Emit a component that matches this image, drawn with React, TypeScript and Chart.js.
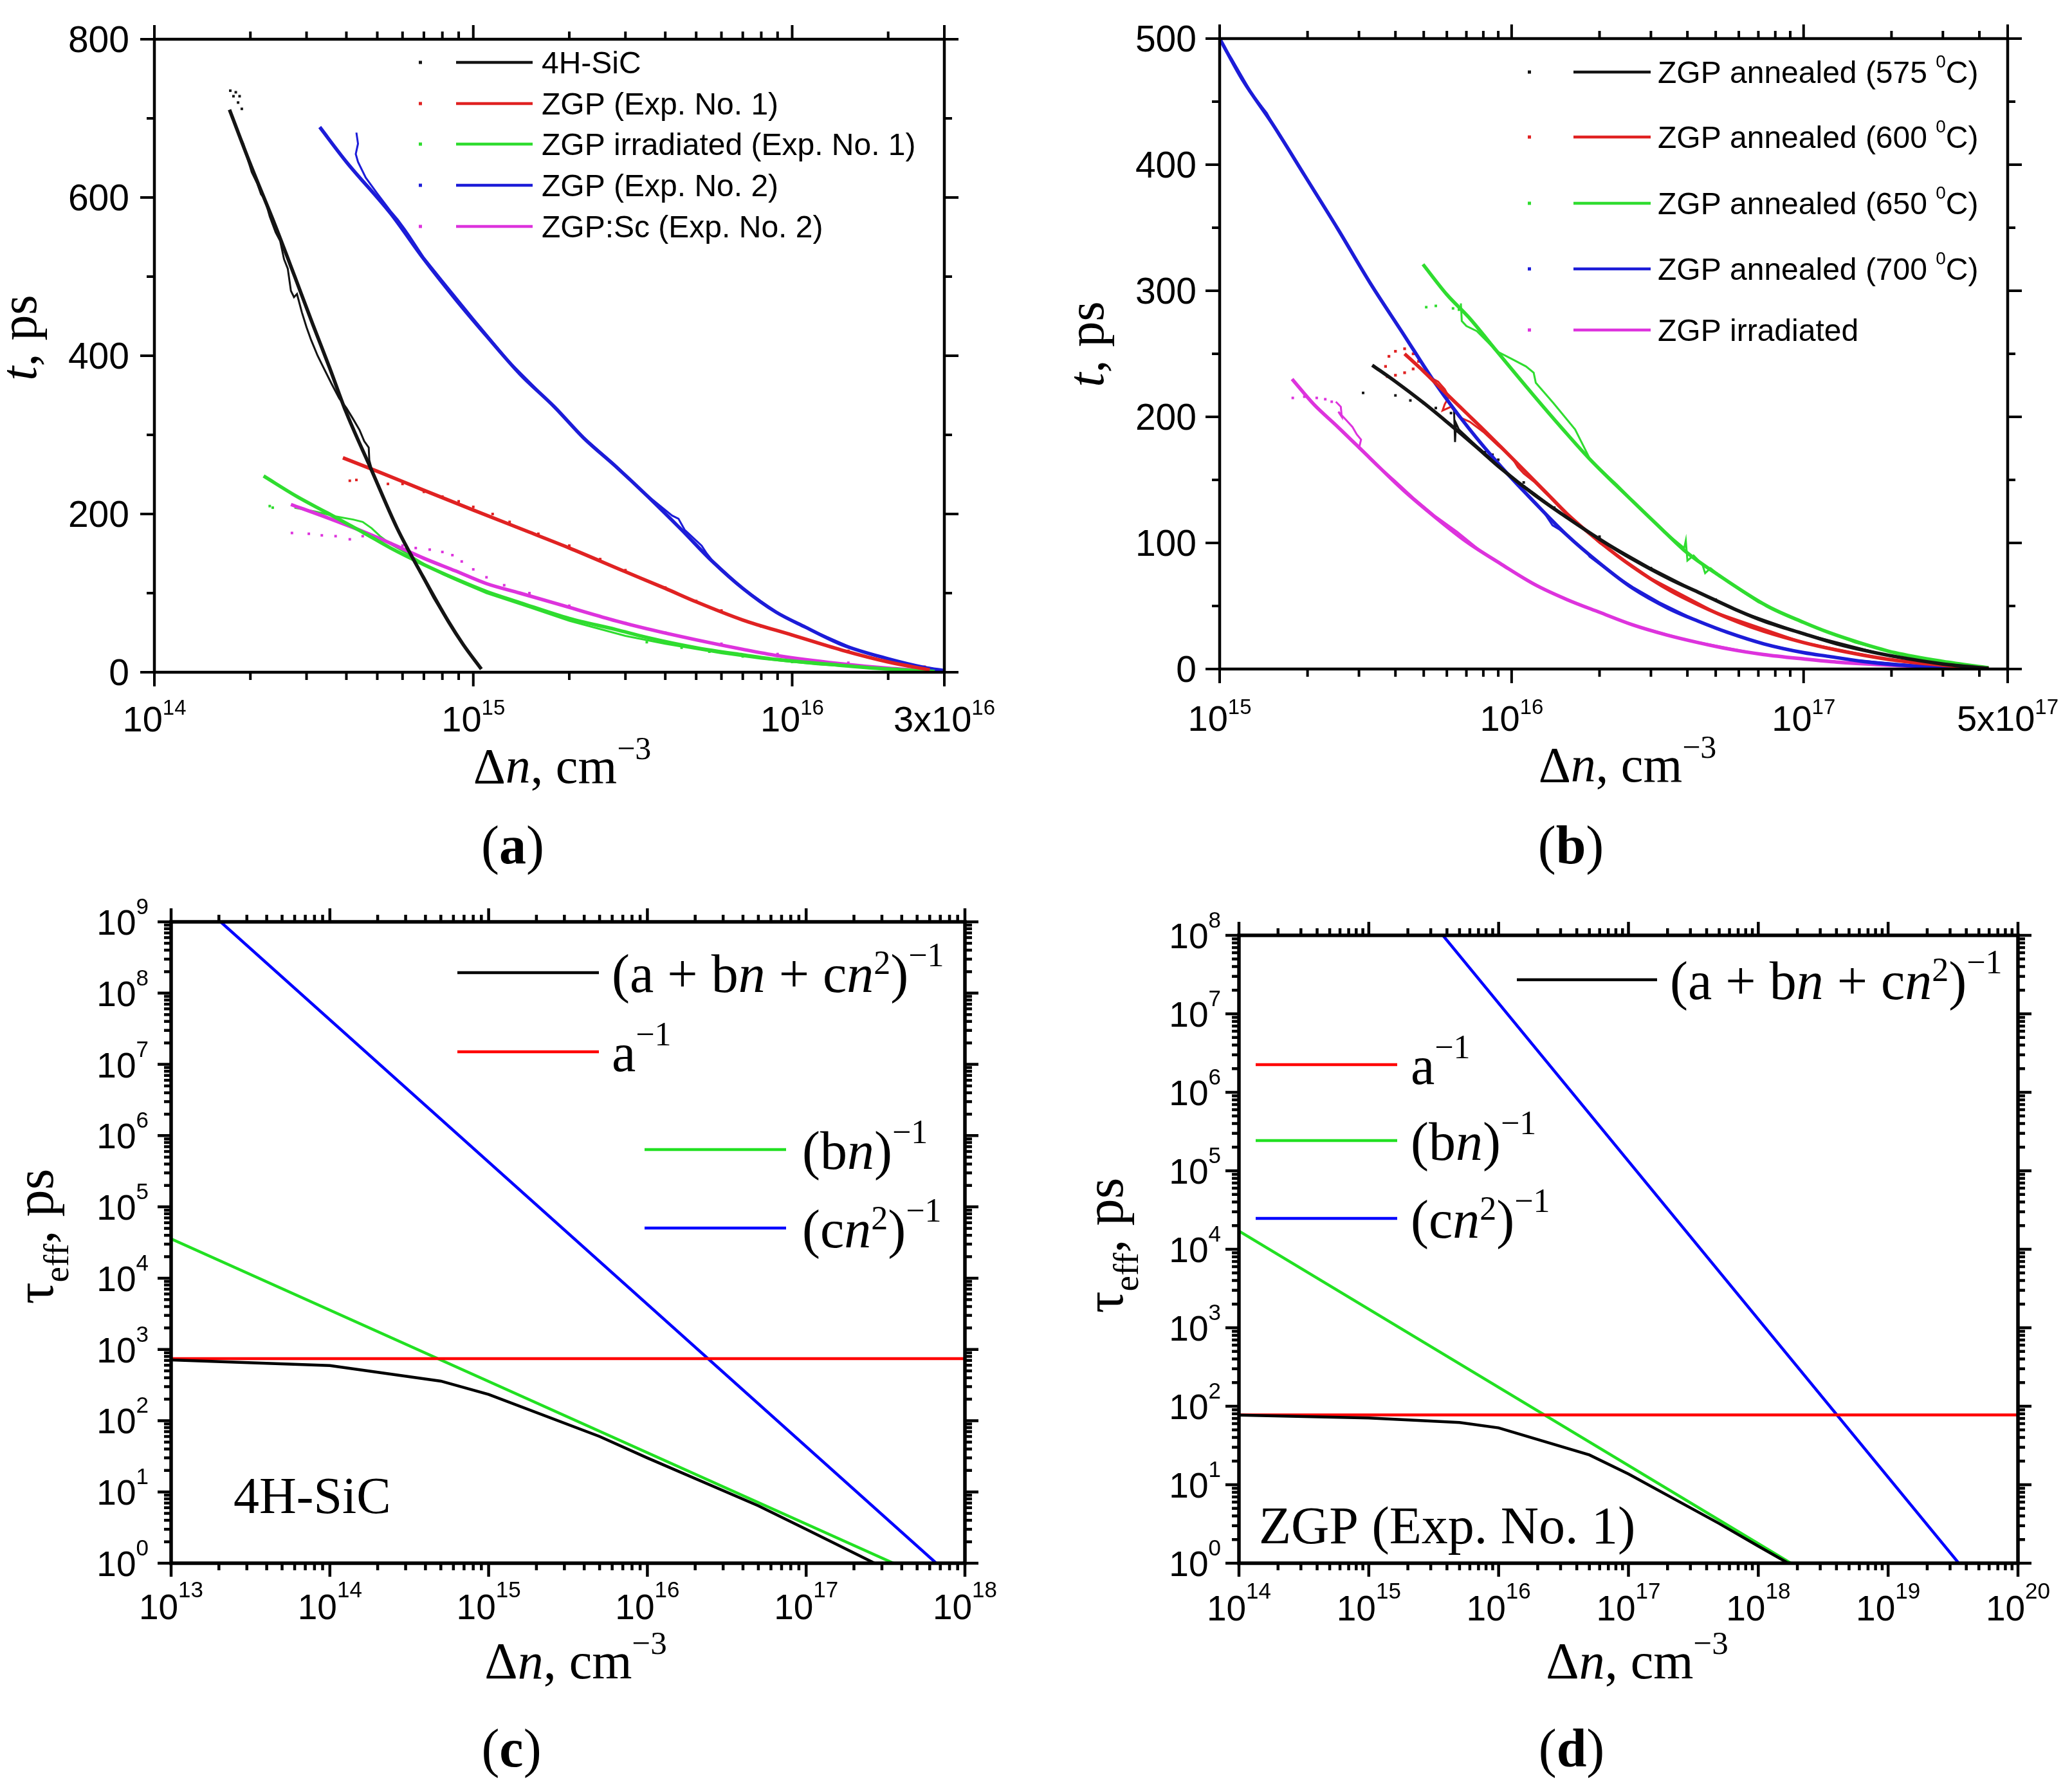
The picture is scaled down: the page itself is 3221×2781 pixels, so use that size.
import React, { useEffect, useRef } from 'react';
import { Chart, registerables } from 'chart.js';

Chart.register(...registerables);

type P = [number, number];

// ---------------- Panel (a) data ----------------
const A_SIC_FIT: P[] = [[1.72e14, 711], [2.0e14, 642], [2.385e14, 566], [2.75e14, 501], [3.15e14, 438], [3.55e14, 384], [3.98e14, 330], [4.79e14, 256], [5.77e14, 182], [6.95e14, 121], [8.36e14, 64], [9.3e14, 35], [1.06e15, 4]];
const A_SIC_DATA: P[] = [[1.75e14, 702], [1.8e14, 690], [1.86e14, 676], [1.9e14, 668], [1.95e14, 652], [2.02e14, 632], [2.1e14, 618], [2.16e14, 604], [2.22e14, 598], [2.3e14, 576], [2.4e14, 556], [2.48e14, 545], [2.55e14, 522], [2.62e14, 510], [2.68e14, 482], [2.74e14, 474], [2.8e14, 478], [2.9e14, 455], [3.0e14, 436], [3.1e14, 420], [3.25e14, 400], [3.4e14, 384], [3.6e14, 364], [3.8e14, 346], [4.0e14, 334], [4.2e14, 320], [4.4e14, 306], [4.55e14, 292], [4.7e14, 284], [4.72e14, 268], [4.85e14, 250], [5.2e14, 222], [5.8e14, 180], [6.5e14, 142], [7.5e14, 94], [8.5e14, 58], [9.5e14, 30], [1.05e15, 6]];
const A_SIC_DOTS: P[] = [[1.73e14, 735], [1.77e14, 728], [1.8e14, 733], [1.83e14, 720], [1.85e14, 728], [1.88e14, 712]];

const A_ZGP1_FIT: P[] = [[3.9e14, 271], [5e14, 254], [7e14, 230], [1e15, 205], [1.5e15, 177], [2e15, 157], [3e15, 127], [4e15, 106], [5e15, 89], [7e15, 66], [1e16, 47], [1.43e16, 28], [2e16, 13], [2.7e16, 3]];
const A_ZGP1_DOTS: P[] = [[4.1e14, 242], [4.3e14, 243], [5.4e14, 238], [6e14, 238], [7e14, 228], [8e14, 222], [9e14, 216], [1e15, 209], [1.15e15, 200], [1.3e15, 190], [1.6e15, 175], [2e15, 160], [2.5e15, 143], [3e15, 129], [4e15, 107], [5e15, 90], [6e15, 78], [8e15, 58], [1e16, 47], [1.5e16, 27], [2e16, 15], [2.6e16, 7], [3e16, 3]];

const A_IRR_FIT: P[] = [[2.2e14, 248], [2.8e14, 222], [3.46e14, 202], [4.5e14, 177], [5.5e14, 157], [7e14, 136], [8.8e14, 118], [1.1e15, 102], [1.4e15, 88], [2e15, 68], [2.8e15, 54], [3.5e15, 44], [5e15, 31], [7e15, 22], [9e15, 16], [1.4e16, 9], [2e16, 4], [2.8e16, 1]];
const A_IRR_DATA: P[] = [[2.75e14, 208], [3.2e14, 203], [3.7e14, 197], [4.2e14, 193], [4.5e14, 190], [4.8e14, 182], [5.1e14, 172], [5.5e14, 162], [6.2e14, 150], [7e14, 137], [8e14, 124], [9e14, 115], [1.1e15, 100], [1.5e15, 82], [2e15, 65], [3e15, 46], [4e15, 36], [6e15, 24], [8e15, 17], [1.2e16, 10], [2e16, 4], [3e16, 1]];
const A_IRR_DOTS: P[] = [[2.3e14, 210], [2.35e14, 208], [3.5e15, 38], [4.5e15, 31], [5.5e15, 26], [7e15, 20], [1e16, 13], [1.5e16, 8], [2.2e16, 3]];

const A_ZGP2_FIT: P[] = [[3.3e14, 689], [4e14, 645], [5.5e14, 580], [7e14, 522], [8.77e14, 472], [1.1e15, 425], [1.4e15, 377], [1.8e15, 335], [2.22e15, 296], [2.8e15, 260], [3.53e15, 222], [4.5e15, 180], [5.62e15, 140], [7e15, 106], [8.9e15, 76], [1.1e16, 57], [1.43e16, 35], [2e16, 17], [2.6e16, 6], [3e16, 2]];
const A_ZGP2_DATA: P[] = [[4.3e14, 682], [4.35e14, 668], [4.28e14, 655], [4.35e14, 645], [4.6e14, 625], [5e14, 605], [5.5e14, 583], [5.8e14, 572], [6.1e14, 560], [6.3e14, 552], [7e14, 524], [8e14, 495], [1e15, 447], [1.3e15, 392], [1.7e15, 345], [2.2e15, 298], [2.8e15, 261], [3.5e15, 224], [4.2e15, 198], [4.4e15, 194], [4.6e15, 180], [5.2e15, 160], [5.4e15, 150], [5.6e15, 142], [7e15, 106], [9e15, 75], [1.2e16, 50], [1.6e16, 28], [2.2e16, 12], [3e16, 2]];

const A_SC_FIT: P[] = [[2.68e14, 212], [3.5e14, 195], [4.5e14, 178], [5.5e14, 163], [7e14, 144], [8.8e14, 128], [1.1e15, 112], [1.4e15, 100], [2e15, 82], [2.8e15, 65], [3.5e15, 55], [5e15, 41], [7e15, 29], [9e15, 21], [1.4e16, 11], [2e16, 5], [3e16, 0.5]];
const A_SC_DOTS: P[] = [[2.7e14, 176], [3.05e14, 175], [3.35e14, 173], [3.7e14, 172], [4.1e14, 168], [4.5e14, 172], [5e14, 167], [5.5e14, 163], [6e14, 160], [6.6e14, 157], [7.3e14, 155], [8e14, 152], [8.6e14, 148], [9.2e14, 140], [1e15, 130], [1.1e15, 120], [1.25e15, 110], [1.5e15, 100], [2e15, 84], [3e15, 62], [4e15, 50], [6e15, 36], [9e15, 23], [1.5e16, 12], [2.5e16, 3]];

const A_LEGEND = ['4H-SiC', 'ZGP (Exp. No. 1)', 'ZGP irradiated (Exp. No. 1)', 'ZGP (Exp. No. 2)', 'ZGP:Sc (Exp. No. 2)'];
const A_Y_TICKS = [0, 200, 400, 600, 800];
const A_Y_MINOR = [100, 300, 500, 700];

// ---------------- Panel (b) data ----------------
const B_575_FIT: P[] = [[3.33e15, 241], [4e15, 228], [5e15, 211], [6e15, 196], [7.5e15, 177], [9.2e15, 159], [1.2e16, 138], [1.55e16, 120], [2e16, 103], [2.6e16, 87], [3.5e16, 71], [4.35e16, 61], [6e16, 46], [7.3e16, 38], [1e17, 28], [1.3e17, 20], [1.6e17, 15], [2.05e17, 10], [3e17, 4], [4.3e17, 0.5]];
const B_575_DOTS: P[] = [[3.1e15, 219], [4.0e15, 217], [4.5e15, 213], [5e15, 211], [5.5e15, 207], [6.2e15, 203], [8.1e15, 172], [8.6e15, 170], [9e15, 166], [1.1e16, 148], [1.4e16, 128], [2e16, 105], [3e16, 80], [5e16, 55], [8e16, 35]];
const B_575_DATA: P[] = [[6.35e15, 205], [6.4e15, 180], [6.45e15, 195], [6.6e15, 190], [7.5e15, 178], [8.5e15, 167], [1e16, 152], [1.2e16, 139], [1.5e16, 122], [2e16, 103], [3e16, 80], [4.35e16, 61], [6e16, 46], [1e17, 28], [2e17, 10], [4.3e17, 0.5]];

const B_600_FIT: P[] = [[4.3e15, 250], [5e15, 236], [6e15, 218], [7e15, 203], [8e15, 190], [9.2e15, 176], [1.1e16, 158], [1.3e16, 141], [1.55e16, 123], [2e16, 101], [2.6e16, 81], [3.5e16, 62], [4.35e16, 51], [6e16, 37], [7.3e16, 30], [1e17, 21], [1.3e17, 15], [1.6e17, 11], [2.05e17, 7], [3e17, 3], [4.3e17, 0.5]];
const B_600_LOOP: P[] = [[3.75e15, 232], [3.7e15, 240], [3.8e15, 248], [4.0e15, 252], [4.3e15, 254], [4.6e15, 250], [4.8e15, 244], [4.6e15, 238], [4.3e15, 235], [4.0e15, 233]];
const B_600_DATA: P[] = [[4.8e15, 240], [5.2e15, 232], [5.6e15, 228], [5.9e15, 222], [6.1e15, 216], [5.9e15, 210], [5.8e15, 205], [6.2e15, 208], [6.6e15, 200], [7.2e15, 196], [8e15, 188], [9e15, 177], [1e16, 168], [1.05e16, 160], [1.1e16, 155], [1.2e16, 148], [1.3e16, 140], [1.55e16, 123], [2e16, 100], [3e16, 72], [5e16, 45], [1e17, 21], [2e17, 7], [4.3e17, 0.5]];

const B_650_FIT: P[] = [[4.97e15, 321], [6e15, 297], [7.13e15, 279], [8.9e15, 252], [1.19e16, 217], [1.5e16, 190], [1.86e16, 166], [2.6e16, 133], [3.3e16, 110], [4e16, 92], [5e16, 76], [7.5e16, 50], [1e17, 37], [1.22e17, 29], [1.6e17, 20], [2.05e17, 13], [3e17, 6], [4.3e17, 1]];
const B_650_DOTS: P[] = [[5.1e15, 287], [5.5e15, 288], [6.3e15, 286], [6.6e15, 285]];
const B_650_DATA: P[] = [[6.7e15, 290], [6.75e15, 276], [7.0e15, 272], [7.6e15, 268], [8.9e15, 252], [1.0e16, 246], [1.12e16, 240], [1.19e16, 235], [1.21e16, 227], [1.39e16, 211], [1.65e16, 190], [1.86e16, 166], [2.3e16, 146], [2.8e16, 126], [3.5e16, 105], [3.9e16, 96], [3.95e16, 102], [4.0e16, 86], [4.2e16, 90], [4.5e16, 83], [4.6e16, 76], [4.8e16, 80], [5.5e16, 69], [7e16, 53], [1e17, 37], [1.5e17, 21], [2.5e17, 8], [4.3e17, 1]];

const B_700_FIT: P[] = [[1e15, 500], [1.2e15, 467], [1.51e15, 433], [1.96e15, 391], [2.54e15, 349], [3.28e15, 306], [4.25e15, 266], [5.5e15, 226], [7.13e15, 191], [9.24e15, 160], [1.2e16, 132], [1.55e16, 106], [2e16, 84], [2.6e16, 64], [3.45e16, 48], [4.35e16, 38], [5.5e16, 29], [7.3e16, 20], [1e17, 13], [1.22e17, 10], [1.6e17, 6], [2.05e17, 3.5], [3e17, 1.5], [4.3e17, 0.3]];
const B_700_DATA: P[] = [[1e15, 499], [1.1e15, 484], [1.3e15, 455], [1.45e15, 441], [1.6e15, 423], [1.8e15, 405], [2.1e15, 379], [2.5e15, 351], [3e15, 320], [3.5e15, 296], [4e15, 275], [4.6e15, 253], [5.3e15, 232], [6.2e15, 210], [7e15, 193], [8e15, 177], [9.2e15, 161], [1.1e16, 141], [1.3e16, 123], [1.38e16, 114], [1.45e16, 111], [1.6e16, 103], [1.8e16, 93], [1.85e16, 89], [2.2e16, 76], [2.6e16, 65], [3.2e16, 53], [4e16, 42], [5e16, 32], [7e16, 21], [1e17, 13], [1.5e17, 7], [2.5e17, 2.5], [4.3e17, 0.3]];

const B_IRR_FIT: P[] = [[1.77e15, 230], [2.1e15, 210], [2.54e15, 192], [3.28e15, 167], [4.25e15, 142], [5.5e15, 120], [7e15, 101], [9.24e15, 83], [1.2e16, 67], [1.55e16, 55], [2e16, 45], [2.6e16, 35], [3.4e16, 27], [4.35e16, 21], [5.5e16, 16], [7.3e16, 11.5], [1e17, 8], [1.3e17, 5.5], [2e17, 3], [3e17, 1.2], [4.3e17, 0.3]];
const B_IRR_DOTS: P[] = [[1.78e15, 215], [1.95e15, 216], [2.15e15, 215], [2.3e15, 214], [2.42e15, 212]];
const B_IRR_DATA: P[] = [[2.5e15, 212], [2.6e15, 208], [2.62e15, 200], [2.55e15, 204], [2.7e15, 198], [2.85e15, 192], [2.95e15, 186], [3.05e15, 182], [3.0e15, 175], [3.2e15, 170], [3.5e15, 161], [4e15, 149], [4.6e15, 136], [5.5e15, 121], [6.5e15, 109], [8e15, 92], [1e16, 78], [1.3e16, 63], [1.8e16, 49], [2.5e16, 36], [4e16, 23], [7e16, 12], [1.2e17, 6], [2.5e17, 2], [4.3e17, 0.3]];

const B_LEGEND_TEMPS = ['575', '600', '650', '700'];
const B_Y_TICKS = [0, 100, 200, 300, 400, 500];
const B_Y_MINOR = [50, 150, 250, 350, 450];

// ---------------- Panel (c) data ----------------
const C_TOTAL: P[] = [[1e13, 714], [1e14, 593], [5e14, 359], [1e15, 234], [5e15, 60], [1e16, 30], [5e16, 6.4], [1e17, 3], [2.7e17, 1]];
const C_A: P[] = [[1e13, 741], [1e18, 741]];
const C_B: P[] = [[1e13, 3.56e4], [3.55e17, 1]];
const C_C: P[] = [[2.05e13, 1e9], [6.6e17, 1]];

// ---------------- Panel (d) data ----------------
const D_TOTAL: P[] = [[1e14, 77], [1e15, 71], [5e15, 62], [1e16, 53], [5e16, 24], [1e17, 13.7], [5e17, 3.2], [1e18, 1.65], [1.7e18, 1]];
const D_A: P[] = [[1e14, 77.6], [1e20, 77.6]];
const D_B: P[] = [[1e14, 1.71e4], [1.78e18, 1]];
const D_C: P[] = [[3.72e15, 1e8], [3.5e19, 1]];

// ---------------- styling ----------------
const SANS = '"Liberation Sans", Arial, Helvetica, sans-serif';
const SERIF = '"Liberation Serif", "Times New Roman", Times, serif';
const fnt = (size: number, fam: string, style = '') => `${style} ${size}px ${fam}`.trim();

const COL = { k: '#141414', r: '#e02222', g: '#2fdc2f', b: '#1c1cd8', m: '#dd33dd' };
const COL2 = { k: '#000000', r: '#ff0000', g: '#22e022', b: '#0000ff' };

type Seg = { t: string; f: string; dy?: number };

function segWidth(ctx: CanvasRenderingContext2D, segs: Seg[]) {
  let w = 0;
  for (const s of segs) {
    ctx.font = s.f;
    w += ctx.measureText(s.t).width;
  }
  return w;
}

function drawSegs(ctx: CanvasRenderingContext2D, segs: Seg[], x: number, y: number, align: 'left' | 'center' | 'right') {
  const w = segWidth(ctx, segs);
  let cx = align === 'left' ? x : align === 'center' ? x - w / 2 : x - w;
  ctx.textAlign = 'left';
  ctx.textBaseline = 'alphabetic';
  for (const s of segs) {
    ctx.font = s.f;
    ctx.fillText(s.t, cx, y + (s.dy || 0));
    cx += ctx.measureText(s.t).width;
  }
}

function logMinors(lo: number, hi: number) {
  const out: number[] = [];
  for (let e = Math.floor(Math.log10(lo)); e <= Math.ceil(Math.log10(hi)); e++) {
    for (let m = 2; m <= 9; m++) {
      const v = m * Math.pow(10, e);
      if (v > lo * 1.0001 && v < hi * 0.9999) out.push(v);
    }
  }
  return out;
}

function logMajors(lo: number, hi: number) {
  const out: number[] = [];
  for (let e = Math.round(Math.log10(lo)); e <= Math.floor(Math.log10(hi) + 1e-9); e++) out.push(Math.pow(10, e));
  return out;
}

interface Frame {
  lw: number; tw: number; major: number; minor: number;
}

function drawFrame(chart: any, fr: Frame, xMaj: number[], xMin: number[], yMaj: number[], yMin: number[]) {
  const ctx: CanvasRenderingContext2D = chart.ctx;
  const a = chart.chartArea;
  const xs = chart.scales.x;
  const ys = chart.scales.y;
  ctx.save();
  ctx.strokeStyle = '#000';
  ctx.lineCap = 'butt';
  ctx.lineWidth = fr.tw;
  ctx.beginPath();
  const xt = (v: number, len: number) => {
    const px = xs.getPixelForValue(v);
    ctx.moveTo(px, a.bottom); ctx.lineTo(px, a.bottom + len);
    ctx.moveTo(px, a.top); ctx.lineTo(px, a.top - len);
  };
  const yt = (v: number, len: number) => {
    const py = ys.getPixelForValue(v);
    ctx.moveTo(a.left, py); ctx.lineTo(a.left - len, py);
    ctx.moveTo(a.right, py); ctx.lineTo(a.right + len, py);
  };
  xMaj.forEach((v) => xt(v, fr.major));
  xMin.forEach((v) => xt(v, fr.minor));
  yMaj.forEach((v) => yt(v, fr.major));
  yMin.forEach((v) => yt(v, fr.minor));
  ctx.stroke();
  ctx.lineWidth = fr.lw;
  ctx.strokeRect(a.left, a.top, a.right - a.left, a.bottom - a.top);
  ctx.restore();
}

const pts = (arr: P[]) => arr.map(([x, y]) => ({ x, y }));
const fitDs = (arr: P[], color: string, w = 5.5) => ({ data: pts(arr), showLine: true, borderColor: color, backgroundColor: color, borderWidth: w, pointRadius: 0, cubicInterpolationMode: 'monotone', fill: false });
const lineDs = (arr: P[], color: string, w = 3) => ({ data: pts(arr), showLine: true, borderColor: color, backgroundColor: color, borderWidth: w, pointRadius: 0, tension: 0, fill: false });
const dotDs = (arr: P[], color: string, r = 2.8) => ({ data: pts(arr), showLine: false, pointRadius: r, pointStyle: 'rect', backgroundColor: color, borderColor: color, borderWidth: 0 });
const straightDs = (arr: P[], color: string, w = 4.5) => ({ data: pts(arr), showLine: true, borderColor: color, backgroundColor: color, borderWidth: w, pointRadius: 0, tension: 0, fill: false });

interface PanelSpec {
  left: number; top: number; w: number; h: number;
  pad: { left: number; top: number; right: number; bottom: number };
  xType: 'logarithmic' | 'linear'; yType: 'logarithmic' | 'linear';
  xMin: number; xMax: number; yMin: number; yMax: number;
  datasets: any[];
  decor: (chart: any) => void;
}

function xTitle(ctx: CanvasRenderingContext2D, cx: number, y: number, size: number) {
  drawSegs(ctx, [
    { t: 'Δ', f: fnt(size, SERIF) },
    { t: 'n', f: fnt(size, SERIF, 'italic') },
    { t: ', cm', f: fnt(size, SERIF) },
    { t: '\u22123', f: fnt(Math.round(size * 0.64), SERIF), dy: -Math.round(size * 0.48) },
  ], cx, y, 'center');
}

function panelLabel(ctx: CanvasRenderingContext2D, letter: string, cx: number, y: number) {
  drawSegs(ctx, [
    { t: '(', f: fnt(84, SERIF) },
    { t: letter, f: fnt(84, SERIF, 'bold') },
    { t: ')', f: fnt(84, SERIF) },
  ], cx, y, 'center');
}

function rotated(ctx: CanvasRenderingContext2D, segs: Seg[], x: number, y: number) {
  ctx.save();
  ctx.translate(x, y);
  ctx.rotate(-Math.PI / 2);
  drawSegs(ctx, segs, 0, 0, 'center');
  ctx.restore();
}

// ---------------- Panel (a) ----------------
const specA: PanelSpec = {
  left: 0, top: 0, w: 1610, h: 1390,
  pad: { left: 240, top: 61, right: 142, bottom: 345 },
  xType: 'logarithmic', yType: 'linear', xMin: 1e14, xMax: 3e16, yMin: 0, yMax: 800,
  datasets: [
    fitDs(A_SIC_FIT, COL.k), fitDs(A_ZGP1_FIT, COL.r), fitDs(A_IRR_FIT, COL.g), fitDs(A_ZGP2_FIT, COL.b), fitDs(A_SC_FIT, COL.m),
    lineDs(A_SIC_DATA, COL.k), dotDs(A_SIC_DOTS, COL.k),
    dotDs(A_ZGP1_DOTS, COL.r),
    lineDs(A_IRR_DATA, COL.g), dotDs(A_IRR_DOTS, COL.g),
    lineDs(A_ZGP2_DATA, COL.b),
    dotDs(A_SC_DOTS, COL.m),
  ],
  decor: (chart) => {
    const ctx: CanvasRenderingContext2D = chart.ctx;
    const a = chart.chartArea;
    const xs = chart.scales.x;
    const ys = chart.scales.y;
    const xMaj = [1e14, 1e15, 1e16, 3e16];
    drawFrame(chart, { lw: 4.5, tw: 4, major: 22, minor: 12 }, xMaj, logMinors(1e14, 3e16).filter((v) => v !== 3e16), A_Y_TICKS, A_Y_MINOR);
    ctx.fillStyle = '#000';
    const xl: [number, string, string][] = [[1e14, '10', '14'], [1e15, '10', '15'], [1e16, '10', '16'], [3e16, '3x10', '16']];
    xl.forEach(([v, b, s]) => drawSegs(ctx, [{ t: b, f: fnt(56, SANS) }, { t: s, f: fnt(33, SANS), dy: -26 }], xs.getPixelForValue(v), a.bottom + 92, 'center'));
    A_Y_TICKS.forEach((v) => drawSegs(ctx, [{ t: String(v), f: fnt(57, SANS) }], a.left - 39, ys.getPixelForValue(v) + 20, 'right'));
    xTitle(ctx, 874, 1217, 78);
    rotated(ctx, [{ t: 't', f: fnt(80, SERIF, 'italic') }, { t: ', ps', f: fnt(80, SERIF) }], 56, 525);
    panelLabel(ctx, 'a', 797, 1342);
    // legend
    const rows = [97, 161, 224, 288, 352];
    const cols = [COL.k, COL.r, COL.g, COL.b, COL.m];
    rows.forEach((ry, i) => {
      ctx.fillStyle = cols[i];
      ctx.fillRect(651, ry - 2.5, 5, 5);
      ctx.strokeStyle = cols[i];
      ctx.lineWidth = 4.5;
      ctx.beginPath(); ctx.moveTo(709, ry); ctx.lineTo(828, ry); ctx.stroke();
      ctx.fillStyle = '#000';
      drawSegs(ctx, [{ t: A_LEGEND[i], f: fnt(48, SANS) }], 842, ry + 17, 'left');
    });
  },
};

// ---------------- Panel (b) ----------------
const specB: PanelSpec = {
  left: 1610, top: 0, w: 1611, h: 1390,
  pad: { left: 286, top: 60, right: 100, bottom: 350 },
  xType: 'logarithmic', yType: 'linear', xMin: 1e15, xMax: 5e17, yMin: 0, yMax: 500,
  datasets: [
    fitDs(B_575_FIT, COL.k), fitDs(B_600_FIT, COL.r), fitDs(B_650_FIT, COL.g), fitDs(B_700_FIT, COL.b), fitDs(B_IRR_FIT, COL.m),
    dotDs(B_575_DOTS, COL.k), lineDs(B_575_DATA, COL.k),
    dotDs(B_600_LOOP, COL.r, 3), lineDs(B_600_DATA, COL.r),
    dotDs(B_650_DOTS, COL.g), lineDs(B_650_DATA, COL.g),
    lineDs(B_700_DATA, COL.b),
    dotDs(B_IRR_DOTS, COL.m), lineDs(B_IRR_DATA, COL.m),
  ],
  decor: (chart) => {
    const ctx: CanvasRenderingContext2D = chart.ctx;
    const a = chart.chartArea;
    const xs = chart.scales.x;
    const ys = chart.scales.y;
    drawFrame(chart, { lw: 4.5, tw: 4, major: 22, minor: 12 }, [1e15, 1e16, 1e17, 5e17], logMinors(1e15, 5e17), B_Y_TICKS, B_Y_MINOR);
    ctx.fillStyle = '#000';
    const xl: [number, string, string][] = [[1e15, '10', '15'], [1e16, '10', '16'], [1e17, '10', '17'], [5e17, '5x10', '17']];
    xl.forEach(([v, b, s]) => drawSegs(ctx, [{ t: b, f: fnt(56, SANS) }, { t: s, f: fnt(33, SANS), dy: -26 }], xs.getPixelForValue(v), a.bottom + 96, 'center'));
    B_Y_TICKS.forEach((v) => drawSegs(ctx, [{ t: String(v), f: fnt(57, SANS) }], a.left - 36, ys.getPixelForValue(v) + 20, 'right'));
    xTitle(ctx, 920, 1215, 78);
    rotated(ctx, [{ t: 't', f: fnt(80, SERIF, 'italic') }, { t: ', ps', f: fnt(80, SERIF) }], 105, 535);
    panelLabel(ctx, 'b', 832, 1342);
    const rows = [112, 213, 316, 418, 513];
    const cols = [COL.k, COL.r, COL.g, COL.b, COL.m];
    rows.forEach((ry, i) => {
      ctx.fillStyle = cols[i];
      ctx.fillRect(765, ry - 2.5, 5, 5);
      ctx.strokeStyle = cols[i];
      ctx.lineWidth = 4.5;
      ctx.beginPath(); ctx.moveTo(836, ry); ctx.lineTo(956, ry); ctx.stroke();
      ctx.fillStyle = '#000';
      const segs: Seg[] = i < 4
        ? [{ t: `ZGP annealed (${B_LEGEND_TEMPS[i]} `, f: fnt(48, SANS) }, { t: '0', f: fnt(28, SANS), dy: -24 }, { t: 'C)', f: fnt(48, SANS) }]
        : [{ t: 'ZGP irradiated', f: fnt(48, SANS) }];
      drawSegs(ctx, segs, 967, ry + 17, 'left');
    });
  },
};

// ---------------- shared for (c) / (d) ----------------
function logPanelDecor(chart: any, xlo: number, xhi: number, ylo: number, yhi: number, yGap: number, xOff: number) {
  const ctx: CanvasRenderingContext2D = chart.ctx;
  const a = chart.chartArea;
  const xs = chart.scales.x;
  const ys = chart.scales.y;
  const xMaj = logMajors(xlo, xhi);
  const yMaj = logMajors(ylo, yhi);
  drawFrame(chart, { lw: 5.5, tw: 4.5, major: 21, minor: 11 }, xMaj, logMinors(xlo, xhi), yMaj, logMinors(ylo, yhi));
  ctx.fillStyle = '#000';
  xMaj.forEach((v) => drawSegs(ctx, [{ t: '10', f: fnt(55, SANS) }, { t: String(Math.round(Math.log10(v))), f: fnt(35, SANS), dy: -34 }], xs.getPixelForValue(v), a.bottom + xOff, 'center'));
  yMaj.forEach((v) => drawSegs(ctx, [{ t: '10', f: fnt(55, SANS) }, { t: String(Math.round(Math.log10(v))), f: fnt(35, SANS), dy: -32 }], a.left - yGap, ys.getPixelForValue(v) + 20, 'right'));
}

const legendLine = (ctx: CanvasRenderingContext2D, x1: number, x2: number, y: number, color: string) => {
  ctx.strokeStyle = color;
  ctx.lineWidth = 4.5;
  ctx.beginPath(); ctx.moveTo(x1, y); ctx.lineTo(x2, y); ctx.stroke();
};

const L = 84;
const LS = 52;
const TOTAL_SEGS: Seg[] = [
  { t: '(a + b', f: fnt(L, SERIF) }, { t: 'n', f: fnt(L, SERIF, 'italic') }, { t: ' + c', f: fnt(L, SERIF) }, { t: 'n', f: fnt(L, SERIF, 'italic') },
  { t: '2', f: fnt(LS, SERIF), dy: -28 }, { t: ')', f: fnt(L, SERIF) }, { t: '\u22121', f: fnt(LS, SERIF), dy: -40 },
];
const A_SEGS: Seg[] = [{ t: 'a', f: fnt(L, SERIF) }, { t: '\u22121', f: fnt(LS, SERIF), dy: -40 }];
const B_SEGS: Seg[] = [{ t: '(b', f: fnt(L, SERIF) }, { t: 'n', f: fnt(L, SERIF, 'italic') }, { t: ')', f: fnt(L, SERIF) }, { t: '\u22121', f: fnt(LS, SERIF), dy: -40 }];
const CC_SEGS: Seg[] = [{ t: '(c', f: fnt(L, SERIF) }, { t: 'n', f: fnt(L, SERIF, 'italic') }, { t: '2', f: fnt(LS, SERIF), dy: -28 }, { t: ')', f: fnt(L, SERIF) }, { t: '\u22121', f: fnt(LS, SERIF), dy: -40 }];
const TAU_SEGS: Seg[] = [{ t: 'τ', f: fnt(84, SERIF) }, { t: 'eff', f: fnt(55, SERIF), dy: 24 }, { t: ', ps', f: fnt(84, SERIF) }];

const specC: PanelSpec = {
  left: 0, top: 1390, w: 1610, h: 1391,
  pad: { left: 266, top: 43, right: 110, bottom: 351 },
  xType: 'logarithmic', yType: 'logarithmic', xMin: 1e13, xMax: 1e18, yMin: 1, yMax: 1e9,
  datasets: [straightDs(C_TOTAL, COL2.k), straightDs(C_A, COL2.r), straightDs(C_B, COL2.g), straightDs(C_C, COL2.b)],
  decor: (chart) => {
    const ctx: CanvasRenderingContext2D = chart.ctx;
    logPanelDecor(chart, 1e13, 1e18, 1, 1e9, 35, 87);
    xTitle(ctx, 895, 1219, 80);
    rotated(ctx, TAU_SEGS, 82, 532);
    panelLabel(ctx, 'c', 795, 1356);
    legendLine(ctx, 711, 931, 122, COL2.k);
    legendLine(ctx, 711, 931, 245, COL2.r);
    legendLine(ctx, 1002, 1222, 397, COL2.g);
    legendLine(ctx, 1002, 1222, 519, COL2.b);
    ctx.fillStyle = '#000';
    drawSegs(ctx, TOTAL_SEGS, 951, 152, 'left');
    drawSegs(ctx, A_SEGS, 951, 275, 'left');
    drawSegs(ctx, B_SEGS, 1247, 427, 'left');
    drawSegs(ctx, CC_SEGS, 1247, 549, 'left');
    drawSegs(ctx, [{ t: '4H-SiC', f: fnt(80, SERIF) }], 363, 962, 'left');
  },
};

const specD: PanelSpec = {
  left: 1610, top: 1390, w: 1611, h: 1391,
  pad: { left: 316, top: 64, right: 84, bottom: 351 },
  xType: 'logarithmic', yType: 'logarithmic', xMin: 1e14, xMax: 1e20, yMin: 1, yMax: 1e8,
  datasets: [straightDs(D_TOTAL, COL2.k), straightDs(D_A, COL2.r), straightDs(D_B, COL2.g), straightDs(D_C, COL2.b)],
  decor: (chart) => {
    const ctx: CanvasRenderingContext2D = chart.ctx;
    logPanelDecor(chart, 1e14, 1e20, 1, 1e8, 28, 89);
    xTitle(ctx, 935, 1219, 80);
    rotated(ctx, TAU_SEGS, 135, 546);
    panelLabel(ctx, 'd', 833, 1356);
    legendLine(ctx, 748, 966, 133, COL2.k);
    legendLine(ctx, 342, 562, 265, COL2.r);
    legendLine(ctx, 342, 562, 383, COL2.g);
    legendLine(ctx, 342, 562, 504, COL2.b);
    ctx.fillStyle = '#000';
    drawSegs(ctx, TOTAL_SEGS, 986, 163, 'left');
    drawSegs(ctx, A_SEGS, 583, 295, 'left');
    drawSegs(ctx, B_SEGS, 583, 413, 'left');
    drawSegs(ctx, CC_SEGS, 583, 534, 'left');
    drawSegs(ctx, [{ t: 'ZGP (Exp. No. 1)', f: fnt(82, SERIF) }], 347, 1009, 'left');
  },
};

function Panel({ spec }: { spec: PanelSpec }) {
  const ref = useRef<HTMLCanvasElement>(null);
  useEffect(() => {
    const canvas = ref.current;
    if (!canvas) return;
    const chart = new Chart(canvas, {
      type: 'scatter',
      data: { datasets: spec.datasets as any },
      options: {
        responsive: false,
        maintainAspectRatio: false,
        animation: false,
        devicePixelRatio: 1,
        events: [],
        layout: { padding: spec.pad },
        plugins: { legend: { display: false }, tooltip: { enabled: false }, title: { display: false } },
        scales: {
          x: { type: spec.xType, min: spec.xMin, max: spec.xMax, display: false },
          y: { type: spec.yType, min: spec.yMin, max: spec.yMax, display: false },
        },
      } as any,
      plugins: [
        {
          id: 'decor',
          afterDraw(c: any) {
            spec.decor(c);
          },
        },
      ],
    });
    return () => chart.destroy();
  }, [spec]);
  return (
    <canvas
      ref={ref}
      width={spec.w}
      height={spec.h}
      style={{ position: 'absolute', left: spec.left, top: spec.top, width: spec.w, height: spec.h }}
    />
  );
}

export default function App() {
  return (
    <div style={{ position: 'absolute', left: 0, top: 0, width: 3221, height: 2781, background: '#ffffff', overflow: 'hidden' }}>
      <Panel spec={specA} />
      <Panel spec={specB} />
      <Panel spec={specC} />
      <Panel spec={specD} />
    </div>
  );
}
